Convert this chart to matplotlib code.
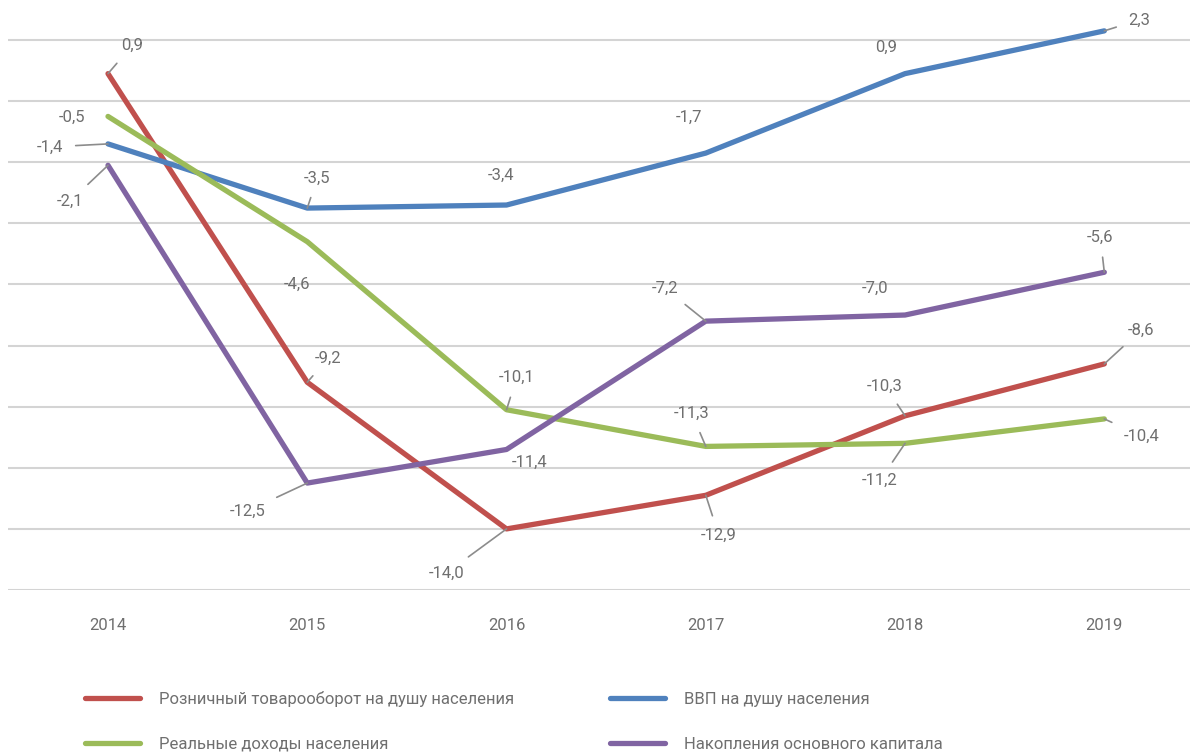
import matplotlib
matplotlib.use('Agg')
import matplotlib.pyplot as plt

plt.rcParams['font.family'] = ['Liberation Sans Narrow', 'Roboto', 'DejaVu Sans']

years = [2014, 2015, 2016, 2017, 2018, 2019]
retail = [0.9, -9.2, -14.0, -12.9, -10.3, -8.6]
gdp = [-1.4, -3.5, -3.4, -1.7, 0.9, 2.3]
income = [-0.5, -4.6, -10.1, -11.3, -11.2, -10.4]
capital = [-2.1, -12.5, -11.4, -7.2, -7.0, -5.6]

names = ['Розничный товарооборот на душу населения', 'ВВП на душу населения',
         'Реальные доходы населения', 'Накопления основного капитала']
colors = ['#C0504D', '#4F81BD', '#9BBB59', '#8064A2']

# label offsets in pixels (dx, dy), and whether a leader line is drawn
offs = {
    'retail': [(24, 28, 1), (21, 24, 1), (-60, -44, 1), (13, -40, 1), (-20, 30, 1), (37, 34, 1)],
    'gdp': [(-58, -3, 1), (10, 30, 1), (-6, 30, 0), (-17, 36, 0), (-19, 26, 0), (35, 11, 1)],
    'income': [(-36, -1, 0), (-10, -43, 0), (10, 32, 1), (-14, 33, 1), (-25, -37, 1), (37, -17, 1)],
    'capital': [(-38, -36, 1), (-60, -28, 1), (23, -13, 0), (-41, 33, 1), (-30, 27, 0), (-4, 35, 1)],
}

fig = plt.figure(figsize=(11.9, 7.52), dpi=100)
ax = fig.add_axes([0.0067, 0.2154, 0.9933, 0.7846])

series = [('retail', retail), ('gdp', gdp), ('income', income), ('capital', capital)]
for (key, vals), name, c in zip(series, names, colors):
    ax.plot(years, vals, color=c, lw=3.8, label=name, solid_capstyle='round', zorder=3)

for key, vals in series:
    for x, y, (dx, dy, lead) in zip(years, vals, offs[key]):
        txt = ('%.1f' % y).replace('.', ',')
        ap = dict(arrowstyle='-', color='#8c8c8c', lw=1.2, shrinkA=7, shrinkB=0) if lead else None
        ax.annotate(txt, (x, y), xytext=(dx, dy), textcoords='offset pixels',
                    ha='center', va='center', fontsize=12, color='#6f6f6f',
                    arrowprops=ap, zorder=4)

ax.set_xlim(2013.498, 2019.43)
ax.set_ylim(-16, 3.31)
ax.set_yticks(range(-16, 3, 2))
ax.yaxis.grid(True, color='#d4d4d4', lw=1.5)
ax.set_axisbelow(True)
ax.tick_params(axis='y', left=False, labelleft=False)
ax.set_xticks(years)
ax.set_xticklabels([str(y) for y in years])
ax.tick_params(axis='x', length=0, pad=20, labelsize=12, labelcolor='#6f6f6f')
for s in ax.spines.values():
    s.set_visible(False)

h, l = ax.get_legend_handles_labels()
order = [0, 2, 1, 3]
fig.legend([h[i] for i in order], [l[i] for i in order], ncol=2,
           loc='upper left', bbox_to_anchor=(0.066, 0.090), frameon=False,
           fontsize=12, labelcolor='#6f6f6f', handlelength=3.3, handletextpad=1.1,
           columnspacing=5.8, labelspacing=1.8, borderaxespad=0)

fig.savefig('out.png', dpi=100)
